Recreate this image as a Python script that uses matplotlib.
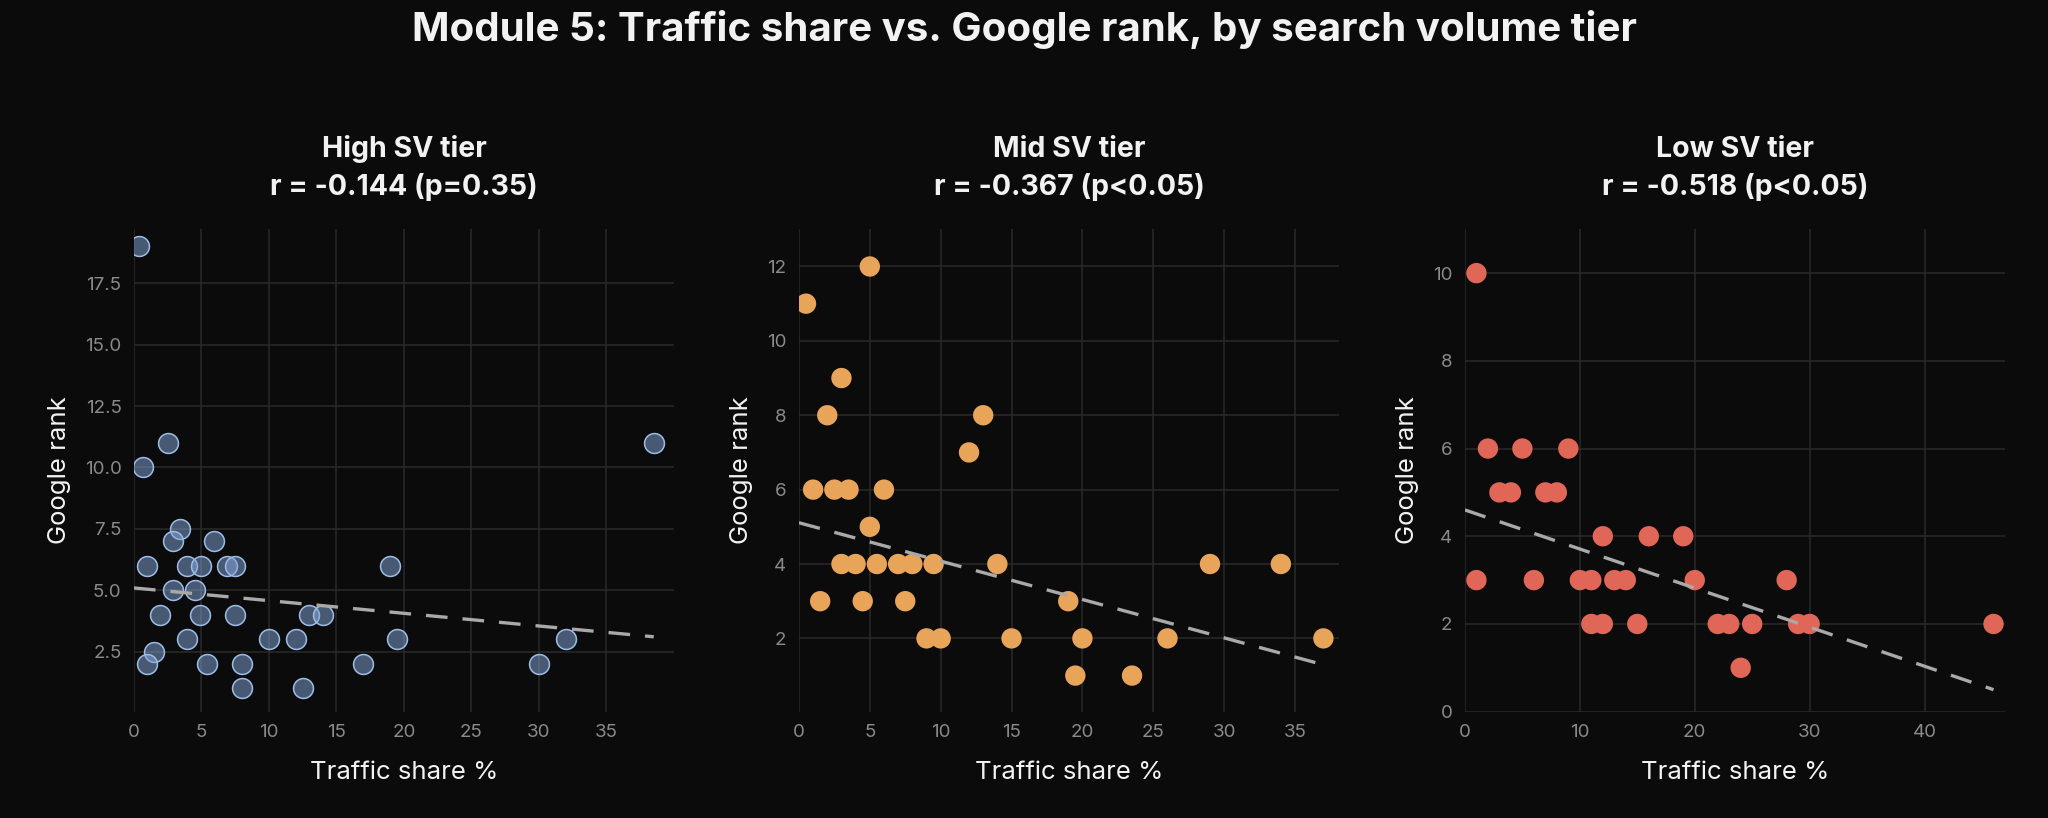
import numpy as np
import matplotlib
matplotlib.use("Agg")
import matplotlib.pyplot as plt

plt.rcParams['font.family'] = ['Inter', 'DejaVu Sans']

# High SV tier
high_share = [0.4, 2.5, 0.7, 38.5, 3.4, 2.9, 5.9, 1.0, 3.9, 5.0, 6.9, 7.5, 19.0,
              2.9, 4.5, 1.9, 4.9, 7.5, 13.0, 14.0, 3.9, 10.0, 12.0, 19.5, 32.0,
              1.5, 1.0, 5.4, 8.0, 17.0, 30.0, 8.0, 12.5]
high_rank = [19, 11, 10, 11, 7.5, 7, 7, 6, 6, 6, 6, 6, 6,
             5, 5, 4, 4, 4, 4, 4, 3, 3, 3, 3, 3,
             2.5, 2, 2, 2, 2, 2, 1, 1]

# Mid SV tier
mid_share = [0.5, 5.0, 3.0, 2.0, 13.0, 12.0, 1.0, 2.5, 3.5, 6.0, 5.0,
             3.0, 4.0, 5.5, 7.0, 8.0, 9.5, 14.0, 29.0, 34.0,
             1.5, 4.5, 7.5, 19.0, 9.0, 10.0, 15.0, 20.0, 26.0, 37.0,
             19.5, 23.5]
mid_rank = [11, 12, 9, 8, 8, 7, 6, 6, 6, 6, 5,
            4, 4, 4, 4, 4, 4, 4, 4, 4,
            3, 3, 3, 3, 2, 2, 2, 2, 2, 2,
            1, 1]

# Low SV tier
low_share = [1, 2, 5, 9, 3, 4, 7, 8, 12, 16, 19,
             1, 6, 10, 11, 13, 14, 20, 28,
             11, 12, 15, 22, 23, 25, 29, 30, 46, 24]
low_rank = [10, 6, 6, 6, 5, 5, 5, 5, 4, 4, 4,
            3, 3, 3, 3, 3, 3, 3, 3,
            2, 2, 2, 2, 2, 2, 2, 2, 2, 1]

# trend lines as drawn in the chart (intercept, slope)
fit_intercept = [5.09, 5.11, 4.60]
fit_slope = [-0.0517, -0.1032, -0.0891]

tiers = ["High SV tier", "Mid SV tier", "Low SV tier"]
stats = ["r = -0.144 (p=0.35)", "r = -0.367 (p<0.05)", "r = -0.518 (p<0.05)"]
shares = [high_share, mid_share, low_share]
ranks = [high_rank, mid_rank, low_rank]

bg = '#0b0b0b'
fig = plt.figure(figsize=(20.48, 8.18), dpi=100, facecolor=bg)

lefts = [0.0654, 0.3901, 0.7153]
xlims = [(0, 40), (0, 38.1), (0, 47)]
ylims = [(0.05, 19.7), (0.03, 13), (0, 11)]
yticks = [[2.5, 5.0, 7.5, 10.0, 12.5, 15.0, 17.5], [2, 4, 6, 8, 10, 12], [0, 2, 4, 6, 8, 10]]
xticks = [range(0, 40, 5), range(0, 40, 5), range(0, 50, 10)]

for i in range(3):
    ax = fig.add_axes([lefts[i], 0.130, 0.2637, 0.5897], facecolor=bg)
    x = np.array(shares[i], dtype=float)
    y = np.array(ranks[i], dtype=float)

    if i == 0:
        ax.scatter(x, y, s=205, facecolor=(0.52, 0.66, 0.86, 0.5),
                   edgecolor='#9dbde6', linewidth=1.1, zorder=3)
    elif i == 1:
        ax.scatter(x, y, s=215, color='#e8a55a', edgecolor='none', zorder=3)
    else:
        ax.scatter(x, y, s=215, color='#e06757', edgecolor='none', zorder=3)

    # trend line
    xs = np.linspace(0, x.max(), 50)
    ax.plot(xs, fit_intercept[i] + fit_slope[i] * xs, color='#a9a9a9', lw=2.4,
            linestyle=(0, (6.5, 4.5)), zorder=4)

    ax.set_xlim(*xlims[i])
    ax.set_ylim(*ylims[i])
    ax.set_xticks(list(xticks[i]))
    ax.set_yticks(yticks[i])
    if i == 0:
        ax.set_yticklabels([f"{t:.1f}" for t in yticks[i]])

    ax.grid(True, color='#2a2a2a', linewidth=1.1)
    ax.set_axisbelow(True)
    for sp in ax.spines.values():
        sp.set_visible(False)
    ax.tick_params(length=0, pad=9, labelsize=13.5, labelcolor='#8a8a8a')

    ax.set_xlabel("Traffic share %", color='#f2f2f2', fontsize=18.5, labelpad=14)
    ax.set_ylabel("Google rank", color='#f2f2f2', fontsize=18.5, labelpad=10)
    ax.set_title(tiers[i] + "\n" + stats[i], color='#f2f2f2', fontsize=20.5,
                 fontweight='bold', pad=25, linespacing=1.45)

fig.suptitle("Module 5: Traffic share vs. Google rank, by search volume tier",
             color='#f2f2f2', fontsize=29, fontweight='bold', y=0.988)

fig.savefig("out.png", dpi=100, facecolor=bg)
